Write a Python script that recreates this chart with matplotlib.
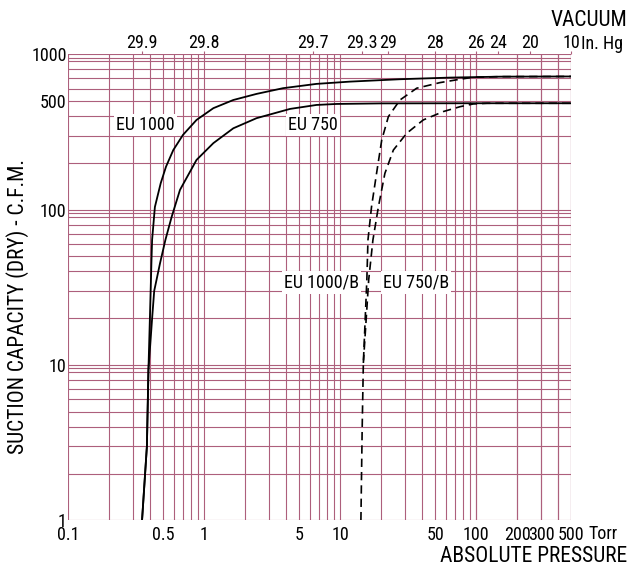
import matplotlib
matplotlib.use('Agg')
import matplotlib.pyplot as plt
from matplotlib import font_manager
import numpy as np

# a condensed face if there is one, else the narrowest plain one
have = {f.name for f in font_manager.fontManager.ttflist}
fam, fs = 'DejaVu Sans', 10.5
for name, size in [('Liberation Sans Narrow', 13), ('Roboto Condensed', 13),
                   ('DejaVu Sans Condensed', 12), ('Open Sans Condensed', 13),
                   ('Roboto', 12)]:
    if name in have:
        fam, fs = name, size
        break
plt.rcParams['font.family'] = [fam, 'DejaVu Sans']

# pressure (Torr) vs suction capacity (cfm)
eu1000_p = [0.35, 0.38, 0.39, 0.40, 0.405, 0.41, 0.415, 0.435, 0.48, 0.525, 0.594,
            0.70, 0.88, 1.17, 1.64, 2.43, 3.8, 6.7, 11.8, 27.5, 64, 150, 500]
eu1000_q = [1, 3, 9.3, 20.5, 30, 45, 64, 104, 148, 189, 242,
            303, 378, 450, 508, 556, 605, 645, 667, 691, 708, 718, 720]

eu750_p = [0.35, 0.38, 0.39, 0.416, 0.43, 0.474, 0.52, 0.578, 0.665, 0.88, 1.17,
           1.64, 2.43, 4.28, 6.7, 9.4, 20, 100, 500]
eu750_q = [1, 3, 9.3, 20.5, 30, 45, 64, 90, 134, 209, 268,
           334, 388, 445, 472, 479, 483, 484, 484]

eu1000b_p = [14.2, 14.5, 14.8, 15.7, 16.0, 17.0, 18.5, 20.2, 22.6, 27.5, 36.5,
             54, 76, 95, 150, 500]
eu1000b_q = [1, 3.8, 10.3, 35.3, 63.8, 104.5, 171, 281, 397, 508, 605,
             657, 691, 712, 718, 720]

# shares its first three points with EU 1000/B
eu750b_p = [14.2, 14.5, 14.8, 16.2, 17.4, 19.1, 21.3, 24.6, 30.8, 40.8, 57.3,
            76, 95, 120, 500]
eu750b_q = [1, 3.8, 10.3, 35.3, 63.8, 104.5, 171, 242, 310, 378, 428,
            460, 479, 484, 484]

# axis ticks
x_ticks = [0.1, 0.5, 1, 5, 10, 50, 100, 200, 300, 500]
x_labels = ['0.1', '0.5', '1', '5', '10', '50', '100', '200', '300', '500']
y_ticks = [1, 10, 100, 500, 1000]
y_labels = ['1', '10', '100', '500', '1000']
vac_pos = [0.35, 1.0, 6.3, 14.5, 22.5, 50, 100, 145, 250, 500]
vac_labels = ['29.9', '29.8', '29.7', '29.3', '29', '28', '26', '24', '20', '10']

x_grid = [m * 10.0 ** e for e in range(-1, 3) for m in range(1, 10)] + [100, 200, 300, 400, 500]
y_grid = [m * 10.0 ** e for e in range(0, 3) for m in [1, 2, 3, 4, 5, 6, 7, 8, 9, 9.5]] + [1000]

gc = '#ad5f7c'
W, H = 642, 567

fig = plt.figure(figsize=(W / 100, H / 100), dpi=100)
ax = fig.add_axes([68 / W, 1 - 520.3 / H, (571.4 - 68) / W, (520.3 - 54.3) / H])
ax.set_xscale('log')
ax.set_yscale('log')
ax.set_xlim(0.1, 500)
ax.set_ylim(1, 1000)

for gx in x_grid:
    ax.axvline(gx, color=gc, lw=0.8, zorder=1)
for gy in y_grid:
    ax.axhline(gy, color=gc, lw=0.8, zorder=1)

for s in ax.spines.values():
    s.set_visible(False)

ax.plot(eu1000_p, eu1000_q, color='black', lw=1.3, zorder=3)
ax.plot(eu750_p, eu750_q, color='black', lw=1.3, zorder=3)
ax.plot(eu1000b_p, eu1000b_q, color='black', lw=1.2, dashes=(5, 3), zorder=3)
ax.plot(eu750b_p[2:], eu750b_q[2:], color='black', lw=1.2, dashes=(5, 3), zorder=3)

box = dict(facecolor='white', edgecolor='none', pad=1.5)
ax.text(0.37, 350, 'EU 1000', fontsize=fs, ha='center', va='center', bbox=box, zorder=4)
ax.text(6.3, 350, 'EU 750', fontsize=fs, ha='center', va='center', bbox=box, zorder=4)
ax.text(7.3, 34, 'EU 1000/B', fontsize=fs, ha='center', va='center', bbox=box, zorder=4)
ax.text(36, 34, 'EU 750/B', fontsize=fs, ha='center', va='center', bbox=box, zorder=4)

ax.minorticks_off()
ax.set_xticks(x_ticks)
ax.set_xticklabels(x_labels, fontsize=fs)
ax.set_yticks(y_ticks)
ax.set_yticklabels(y_labels, fontsize=fs)
ax.tick_params(length=0, pad=4)
ax.tick_params(axis='y', pad=1)

top = ax.twiny()
top.set_xscale('log')
top.set_xlim(0.1, 500)
top.minorticks_off()
top.set_xticks(vac_pos)
top.set_xticklabels(vac_labels, fontsize=fs)
top.tick_params(length=2.5, color=gc, pad=-1)
for s in top.spines.values():
    s.set_visible(False)

fig.text(581 / W, 1 - 44 / H, 'In. Hg', fontsize=fs, ha='left', va='center')
fig.text(627 / W, 1 - 20 / H, 'VACUUM', fontsize=fs + 2.5, ha='right', va='center')
fig.text(588 / W, 1 - 534 / H, 'Torr', fontsize=fs, ha='left', va='center')
fig.text(627 / W, 1 - 556 / H, 'ABSOLUTE PRESSURE', fontsize=fs + 2.5, ha='right', va='center')
fig.text(18 / W, 1 - 307 / H, 'SUCTION CAPACITY (DRY) - C.F.M.', fontsize=fs + 2.5,
         rotation=90, ha='center', va='center')

fig.savefig('out.png', dpi=100)
